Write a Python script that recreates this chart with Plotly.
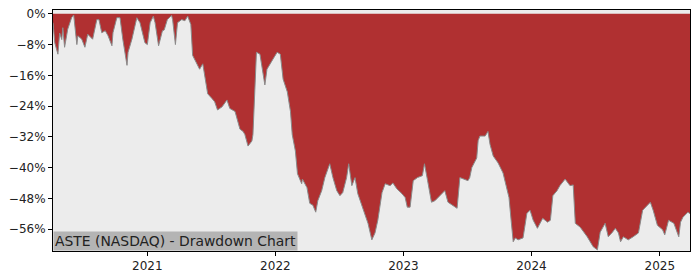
import plotly.graph_objects as go

dates = [
    "2020-04-07", "2020-04-12", "2020-04-21", "2020-04-26", "2020-05-02", "2020-05-05", "2020-05-10",
    "2020-05-19", "2020-05-30", "2020-06-05", "2020-06-14", "2020-06-17", "2020-06-28", "2020-07-07",
    "2020-07-15", "2020-07-29", "2020-08-10", "2020-08-16", "2020-08-24", "2020-09-03", "2020-09-11",
    "2020-09-22", "2020-09-25", "2020-10-06", "2020-10-15", "2020-10-23", "2020-11-04", "2020-11-07",
    "2020-11-18", "2020-12-02", "2020-12-11", "2020-12-25", "2021-01-01", "2021-01-09", "2021-01-18",
    "2021-01-23", "2021-02-02", "2021-02-13", "2021-02-18", "2021-02-27", "2021-03-11", "2021-03-14",
    "2021-03-22", "2021-03-28", "2021-04-09", "2021-04-18", "2021-04-26", "2021-05-05", "2021-05-10",
    "2021-05-22", "2021-05-30", "2021-06-08", "2021-06-14", "2021-06-22", "2021-07-04", "2021-07-12",
    "2021-07-20", "2021-08-02", "2021-08-16", "2021-08-24", "2021-09-08", "2021-09-22", "2021-10-01",
    "2021-10-06", "2021-10-15", "2021-10-26", "2021-10-29", "2021-11-08", "2021-11-18", "2021-11-27",
    "2021-12-02", "2021-12-08", "2021-12-16", "2021-12-25", "2022-01-06", "2022-01-15", "2022-01-23",
    "2022-02-04", "2022-02-13", "2022-02-18", "2022-02-27", "2022-03-05", "2022-03-17", "2022-03-19",
    "2022-04-01", "2022-04-09", "2022-04-18", "2022-04-26", "2022-05-02", "2022-05-13", "2022-05-22",
    "2022-06-05", "2022-06-14", "2022-06-25", "2022-07-04", "2022-07-12", "2022-07-23", "2022-07-29",
    "2022-08-07", "2022-08-16", "2022-08-24", "2022-09-08", "2022-09-22", "2022-10-03", "2022-10-12",
    "2022-10-20", "2022-11-01", "2022-11-10", "2022-11-24", "2022-12-02", "2022-12-13", "2022-12-28",
    "2023-01-06", "2023-01-12", "2023-01-20", "2023-01-29", "2023-02-10", "2023-02-24", "2023-03-02",
    "2023-03-11", "2023-03-22", "2023-04-01", "2023-04-15", "2023-04-29", "2023-05-08", "2023-05-22",
    "2023-06-03", "2023-06-11", "2023-06-19", "2023-07-04", "2023-07-09", "2023-07-15", "2023-07-29",
    "2023-08-02", "2023-08-07", "2023-08-22", "2023-08-30", "2023-09-05", "2023-09-14", "2023-09-28",
    "2023-10-12", "2023-10-23", "2023-10-29", "2023-11-04", "2023-11-10", "2023-11-16", "2023-11-24",
    "2023-12-08", "2023-12-19", "2023-12-28", "2024-01-06", "2024-01-18", "2024-02-02", "2024-02-16",
    "2024-02-24", "2024-03-02", "2024-03-14", "2024-03-22", "2024-04-06", "2024-04-20", "2024-04-29",
    "2024-05-05", "2024-05-19", "2024-06-08", "2024-06-25", "2024-07-07", "2024-07-15", "2024-07-29",
    "2024-08-07", "2024-08-19", "2024-08-27", "2024-09-05", "2024-09-11", "2024-09-19", "2024-10-03",
    "2024-10-17", "2024-11-01", "2024-11-13", "2024-11-27", "2024-12-05", "2024-12-13", "2024-12-25",
    "2025-01-09", "2025-01-15", "2025-01-26", "2025-02-10", "2025-02-24", "2025-03-01", "2025-03-08",
    "2025-03-22", "2025-03-28",
]

drawdown = [
    -2.3, -7.5, -10.5, -5.0, -6.7, -3.6, -8.7,
    -4.0, -1.0, -0.3, -8.0, -5.7, -6.6, -8.7,
    -5.3, -6.6, -1.5, -1.5, -4.9, -4.4, -5.7,
    -8.3, -4.9, -1.0, -1.0, -6.6, -13.4, -10.0,
    -6.6, -1.0, -2.3, -7.5, -8.0, -2.3, -0.6,
    -2.3, -8.3, -4.4, -4.2, -1.5, -0.4, -1.5,
    -8.0, -2.3, -1.5, -1.8, -0.6, -2.8, -10.8,
    -13.0, -14.4, -13.0, -16.4, -20.8, -22.0, -22.9,
    -25.0, -24.2, -22.4, -24.6, -25.4, -30.0, -30.6,
    -31.4, -34.4, -33.1, -31.4, -10.0, -10.5, -16.0,
    -18.5, -14.4, -13.0, -11.8, -10.0, -10.5, -17.0,
    -20.3, -25.4, -31.4, -35.7, -41.6, -44.2, -43.0,
    -45.2, -49.3, -49.8, -51.6, -48.6, -46.0, -42.6,
    -39.0, -42.6, -46.0, -47.3, -46.5, -42.6, -39.0,
    -44.7, -42.6, -46.8, -50.6, -54.5, -58.8, -57.0,
    -53.7, -46.5, -44.2, -44.7, -44.0, -45.5, -46.8,
    -47.8, -50.3, -50.3, -43.4, -42.6, -42.1, -39.0,
    -43.4, -49.0, -48.6, -47.3, -46.0, -49.0, -49.8,
    -50.6, -42.6, -42.9, -43.4, -42.6, -40.0, -37.5,
    -33.0, -31.8, -31.8, -30.6, -34.0, -37.0, -38.8,
    -41.4, -45.2, -47.8, -53.7, -59.3, -58.3, -58.8,
    -58.3, -51.9, -51.1, -53.7, -55.8, -53.2, -54.2,
    -53.7, -47.3, -46.0, -44.7, -43.0, -44.7, -44.5,
    -54.5, -55.5, -58.0, -60.6, -61.4, -56.8, -54.5,
    -58.0, -56.8, -55.8, -57.0, -59.3, -58.0, -58.8,
    -58.0, -57.0, -51.1, -49.8, -49.0, -51.1, -55.0,
    -56.2, -57.5, -53.7, -54.5, -58.0, -54.2, -52.9,
    -51.6, -52.0,
]

ytick_vals = [0, -8, -16, -24, -32, -40, -48, -56]
ytick_text = ["0%", "\u22128%", "\u221216%", "\u221224%", "\u221232%", "\u221240%", "\u221248%", "\u221256%"]
xtick_vals = ["2021-01-01", "2022-01-01", "2023-01-01", "2024-01-01", "2025-01-01"]
xtick_text = ["2021", "2022", "2023", "2024", "2025"]
title_text = "ASTE (NASDAQ) - Drawdown Chart"

fig = go.Figure()
fig.add_trace(go.Scatter(x=dates, y=[0] * len(dates), mode="lines",
                         line=dict(width=0, color="rgba(0,0,0,0)"), hoverinfo="skip", showlegend=False))
fig.add_trace(go.Scatter(x=dates, y=drawdown, mode="lines", fill="tonexty",
                         fillcolor="#b03031", line=dict(color="#8a8a8a", width=1),
                         showlegend=False))

fig.update_layout(
    width=700, height=280,
    margin=dict(l=53, r=10, t=7, b=29),
    paper_bgcolor="white", plot_bgcolor="#ececec",
    font=dict(family="DejaVu Sans", size=12, color="#222222"),
    xaxis=dict(range=["2020-04-07", "2025-03-28"], tickvals=xtick_vals, ticktext=xtick_text,
               showgrid=False, zeroline=False, showline=True, linecolor="black", linewidth=1,
               mirror=True, ticks="outside", ticklen=4, tickcolor="black"),
    yaxis=dict(range=[-61.7, 1.0], tickvals=ytick_vals, ticktext=ytick_text,
               showgrid=False, zeroline=False, showline=True, linecolor="black", linewidth=1,
               mirror=True, ticks="outside", ticklen=4, tickcolor="black"),
    annotations=[dict(text=title_text, x=0, y=0, xref="paper", yref="paper",
                      xanchor="left", yanchor="bottom", showarrow=False,
                      bgcolor="#b4b4b4", borderpad=1,
                      font=dict(family="DejaVu Sans", size=13.9, color="#222222"))],
)

fig.write_html("out.html")
